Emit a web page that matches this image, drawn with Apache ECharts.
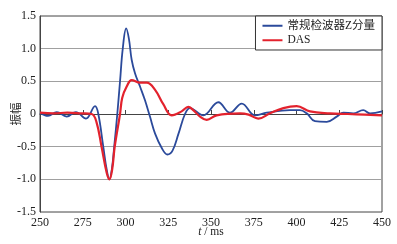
<!DOCTYPE html>
<html>
<head>
<meta charset="utf-8">
<script src="https://cdn.jsdelivr.net/npm/echarts@6/dist/echarts.min.js"></script>
<style>
  html, body { margin: 0; padding: 0; background: #fff; }
  #chart { width: 397px; height: 244px; }
</style>
</head>
<body>
<div id="chart"></div>
<script>
// 时间 (ms) 与振幅
const geoTime = [250, 254.7, 259.8, 265.6, 271, 276.9, 282.2, 284.1, 287, 289, 290.6, 292, 293.4, 295.2, 296.8, 298.4, 300.4, 302, 303.6, 305.6, 308.5, 311.4, 314.3, 317.3, 321.2, 324.5, 327.5, 331, 334.8, 337.7, 345.5, 354.3, 361.1, 368, 375.7, 382.6, 396.2, 402, 406, 410.8, 417.7, 423.5, 427.4, 433.2, 439, 443, 450];
const geoAmp = [0.02, -0.03, 0.03, -0.04, 0.03, -0.07, 0.12, 0.0, -0.5, -0.85, -1.0, -0.85, -0.5, 0.0, 0.5, 1.0, 1.31, 1.15, 0.83, 0.62, 0.42, 0.21, -0.04, -0.3, -0.52, -0.62, -0.56, -0.3, 0.0, 0.09, -0.02, 0.18, 0.02, 0.16, -0.02, 0.02, 0.06, 0.06, 0.01, -0.11, -0.12, -0.04, 0.02, 0.01, 0.06, 0.01, 0.04];

const dasTime = [250, 258, 266, 274, 280.2, 283, 286, 289, 290.6, 292.2, 293.7, 296.8, 298.1, 300.7, 303.6, 308.5, 312.4, 317.3, 322.1, 327, 332.8, 336.7, 339.6, 343.6, 347.5, 353.3, 367, 372, 377.7, 384.5, 392.3, 400.1, 407.9, 419.6, 430, 440, 450];
const dasAmp = [0.02, 0.01, 0.02, 0.01, 0.0, -0.12, -0.5, -0.9, -1.0, -0.85, -0.5, 0.0, 0.25, 0.42, 0.52, 0.48, 0.48, 0.37, 0.15, -0.02, 0.04, 0.11, 0.06, -0.04, -0.09, -0.02, 0.01, -0.01, -0.07, 0.01, 0.09, 0.12, 0.04, 0.01, 0.0, -0.01, -0.02];

const serif = "'Liberation Serif', 'Noto Sans CJK SC', serif";

function pairs(xs, ys) {
  return xs.map((x, i) => [x, ys[i]]);
}

const chart = echarts.init(document.getElementById("chart"));
chart.setOption({
  animation: false,
  textStyle: { fontFamily: serif, color: "#222" },
  grid: {
    left: 40,
    right: 15,
    top: 16,
    bottom: 32,
    outerBoundsMode: "none",
    show: true,
    borderColor: "#444",
    borderWidth: 1,
  },
  legend: {
    orient: "vertical",
    right: 15,
    top: 16,
    padding: [4, 7, 4, 7],
    itemGap: 3,
    itemWidth: 20,
    itemHeight: 2,
    icon: "rect",
    borderColor: "#333",
    borderWidth: 1,
    backgroundColor: "#fff",
    textStyle: { fontFamily: serif, fontSize: 11.5, color: "#222" },
    data: ["常规检波器Z分量", "DAS"],
  },
  xAxis: {
    type: "value",
    min: 250,
    max: 450,
    interval: 25,
    name: "{i|t} / ms",
    nameLocation: "middle",
    nameGap: 14,
    nameMoveOverlap: false,
    nameTextStyle: {
      fontFamily: serif,
      fontSize: 11.5,
      color: "#222",
      rich: { i: { fontStyle: "italic", fontFamily: serif, fontSize: 11.5 } },
    },
    axisLine: { lineStyle: { color: "#444", width: 1 } },
    axisTick: { inside: true, length: 4, lineStyle: { color: "#444" } },
    axisLabel: { fontFamily: serif, fontSize: 12, color: "#222", margin: 5 },
    splitLine: { show: false },
  },
  yAxis: {
    type: "value",
    min: -1.5,
    max: 1.5,
    interval: 0.5,
    name: "振幅",
    nameLocation: "middle",
    nameRotate: 90,
    nameGap: 19,
    nameMoveOverlap: false,
    nameTextStyle: { fontFamily: "'Noto Sans CJK SC', serif", fontSize: 11.5, color: "#222" },
    axisLine: { lineStyle: { color: "#444", width: 1 } },
    axisTick: { show: false },
    axisLabel: {
      fontFamily: serif,
      fontSize: 12,
      color: "#222",
      margin: 4,
      formatter: (v) => (v === 0 ? "0" : v.toFixed(1)),
    },
    splitLine: { lineStyle: { color: "#a0a0a0", width: 1 } },
  },
  series: [
    {
      name: "常规检波器Z分量",
      type: "line",
      smooth: 0.4,
      symbol: "none",
      lineStyle: { color: "#2b4a9b", width: 1.8 },
      itemStyle: { color: "#2b4a9b" },
      data: pairs(geoTime, geoAmp),
    },
    {
      name: "DAS",
      type: "line",
      smooth: 0.4,
      symbol: "none",
      lineStyle: { color: "#e3222d", width: 2.2 },
      itemStyle: { color: "#e3222d" },
      data: pairs(dasTime, dasAmp),
    },
  ],
});
</script>
</body>
</html>
